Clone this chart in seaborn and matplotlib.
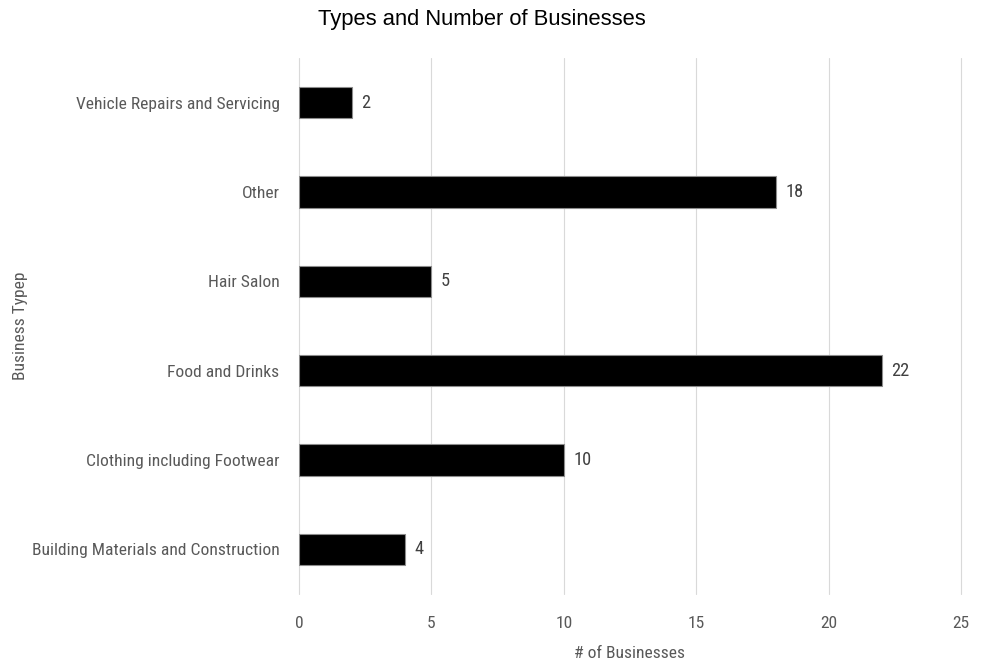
import matplotlib
matplotlib.use("Agg")
import matplotlib.pyplot as plt
from matplotlib import font_manager
import seaborn as sns
import pandas as pd

categories = [
    "Vehicle Repairs and Servicing",
    "Other",
    "Hair Salon",
    "Food and Drinks",
    "Clothing including Footwear",
    "Building Materials and Construction",
]
counts = [2, 18, 5, 22, 10, 4]
x_ticks = [0, 5, 10, 15, 20, 25]

df = pd.DataFrame({"Business Type": categories, "Count": counts})

sns.set_theme(style="white")

# Prefer a condensed sans face when one is available
installed = {f.name for f in font_manager.fontManager.ttflist}
narrow_face, label_size = "Liberation Sans", 11
for name in ["Liberation Sans Narrow", "Roboto Condensed", "Open Sans Condensed",
             "DejaVu Sans Condensed"]:
    if name in installed:
        narrow_face, label_size = name, 12.6
        break
plt.rcParams["font.family"] = [narrow_face, "DejaVu Sans"]

fig = plt.figure(figsize=(9.88, 6.66), dpi=100)
ax = fig.add_axes([299 / 988, 1 - 594 / 666, 662 / 988, 536 / 666])

sns.barplot(data=df, x="Count", y="Business Type", orient="h", color="black",
            width=0.35, edgecolor="#8c8c8c", linewidth=0.8, ax=ax, zorder=3)

ax.set_xlim(0, 25)
ax.set_xticks(x_ticks)
ax.set_xticklabels([str(t) for t in x_ticks])
ax.grid(axis="x", color="#d9d9d9", linewidth=0.8, zorder=0)
ax.grid(axis="y", visible=False)
ax.set_axisbelow(True)
for line in ax.get_xgridlines():
    line.set_clip_on(False)
for s in ax.spines.values():
    s.set_visible(False)

ax.tick_params(axis="x", length=0, pad=16, labelsize=label_size, labelcolor="#595959")
ax.tick_params(axis="y", length=0, pad=14, labelsize=label_size, labelcolor="#595959")

for i, v in enumerate(counts):
    ax.text(v + 0.36, i, f"{v}", va="center", ha="left", fontsize=label_size + 0.6,
            color="#404040")

ax.set_xlabel("# of Businesses", fontsize=label_size, color="#595959", labelpad=11)
ax.set_ylabel("")
fig.text(20 / 988, 1 - 326 / 666, "Business Typep", rotation=90, ha="center",
         va="center", fontsize=label_size, color="#595959")

fig.text(482 / 988, 1 - 20 / 666, "Types and Number of Businesses", ha="center",
         va="center", fontsize=15.8, color="black",
         family=["Liberation Sans", "DejaVu Sans"])

fig.savefig("out.png", dpi=100)
